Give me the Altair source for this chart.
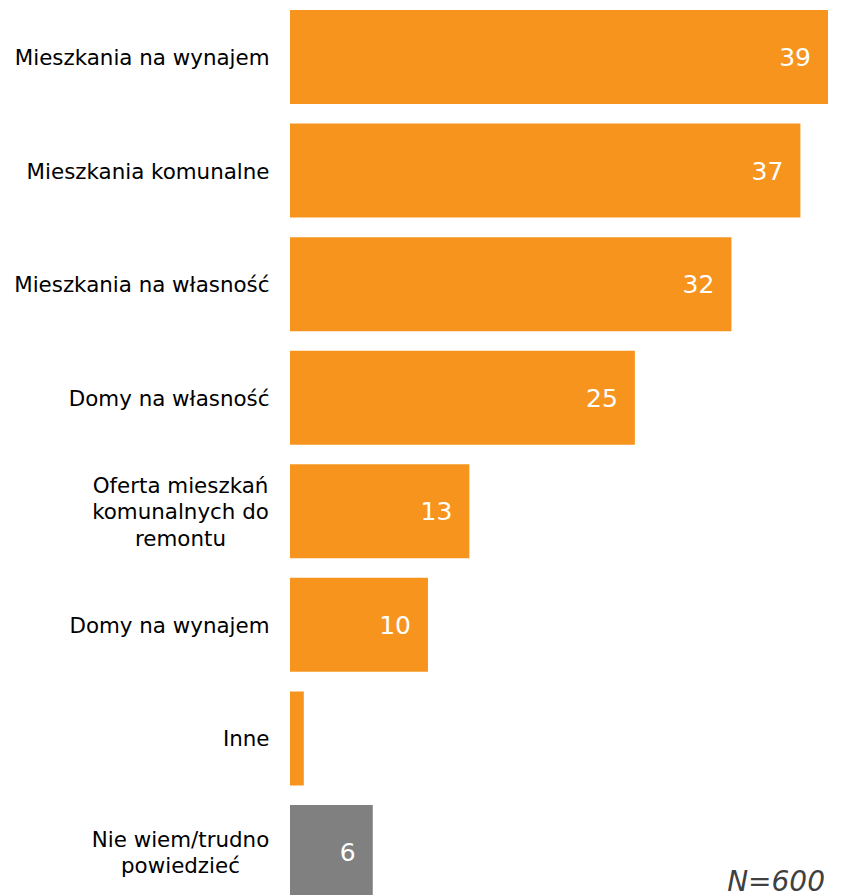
import altair as alt
import pandas as pd

categories = [
    "Mieszkania na wynajem",
    "Mieszkania komunalne",
    "Mieszkania na własność",
    "Domy na własność",
    "Oferta mieszkań\nkomunalnych do\nremontu",
    "Domy na wynajem",
    "Inne",
    "Nie wiem/trudno\npowiedzieć",
]
values = [39, 37, 32, 25, 13, 10, 1, 6]
groups = ["main", "main", "main", "main", "main", "main", "main", "dk"]
show_label = [True, True, True, True, True, True, False, True]

df = pd.DataFrame({
    "cat": categories,
    "val": values,
    "grp": groups,
    "show": show_label,
})

FONT = "DejaVu Sans"
LH = 26.5
NL3 = "length(split(datum.value, '\\n')) == 3"
NL2 = "length(split(datum.value, '\\n')) == 2"
MULTI = "length(split(datum.value, '\\n')) > 1"

y = alt.Y(
    "cat:N",
    sort=categories,
    scale=alt.Scale(paddingInner=0.172, paddingOuter=0),
    axis=alt.Axis(
        title=None,
        domain=False,
        ticks=False,
        labelFont=FONT,
        labelFontSize=21.4,
        labelColor="#000000",
        labelPadding={"condition": {"test": MULTI, "value": 110}, "value": 21},
        labelAlign={"condition": {"test": MULTI, "value": "center"}, "value": "right"},
        labelLimit=400,
        labelLineHeight=LH,
        labelExpr="split(datum.label, '\\n')",
        labelOffset={
            "condition": [
                {"test": NL3, "value": -LH + 2},
                {"test": NL2, "value": -LH / 2 + 2},
            ],
            "value": 2,
        },
    ),
)
x = alt.X(
    "val:Q",
    scale=alt.Scale(domain=[0, 39], nice=False, zero=True),
    axis=None,
)

bars = alt.Chart(df).mark_bar().encode(
    x=x,
    y=y,
    color=alt.Color(
        "grp:N",
        scale=alt.Scale(domain=["main", "dk"], range=["#F7941E", "#808080"]),
        legend=None,
    ),
)

labels = alt.Chart(df).transform_filter("datum.show").mark_text(
    align="right", baseline="middle", dx=-17, dy=1, font=FONT, fontSize=25, color="#FFFFFF"
).encode(x=x, y=y, text=alt.Text("val:Q"))

note = alt.Chart(pd.DataFrame({"t": ["N=600"]})).mark_text(
    align="right", baseline="alphabetic", font=FONT, fontSize=28,
    fontStyle="italic", color="#404040",
).encode(x=alt.value(535), y=alt.value(881), text="t:N")

chart = alt.layer(bars, labels, note).properties(
    width=538,
    height=889,
    autosize=alt.AutoSizeParams(type="none"),
    padding={"left": 282, "top": 2, "right": 0, "bottom": 0},
).configure_view(stroke=None)

chart.save("out.html", embed_options={"renderer": "svg", "actions": False})
